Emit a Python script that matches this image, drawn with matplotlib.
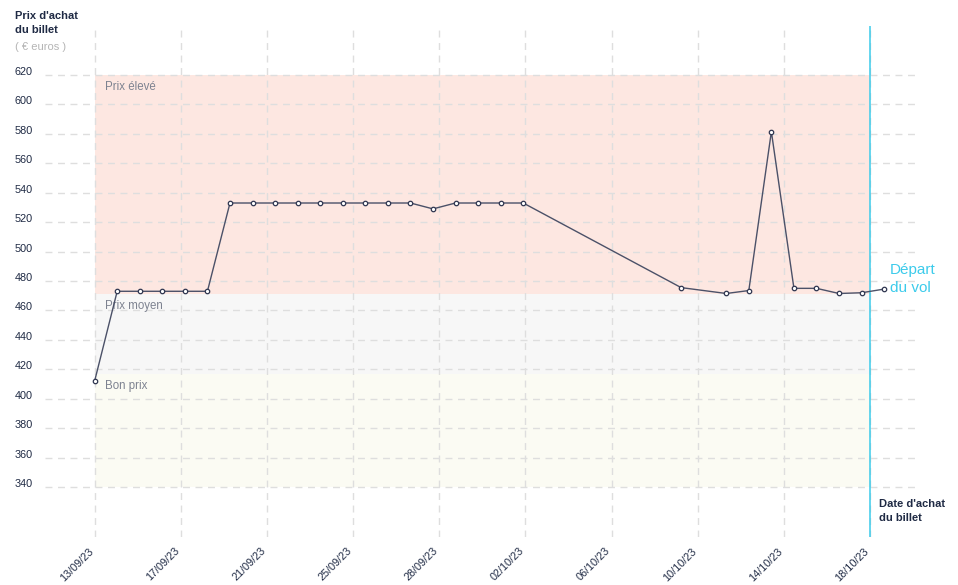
import matplotlib.pyplot as plt
import matplotlib.transforms as mtransforms
import numpy as np
import pandas as pd

plt.rcParams['font.family'] = ['Liberation Sans', 'DejaVu Sans']

# purchase dates and ticket prices (euros)
dates = ['2023-09-13', '2023-09-14', '2023-09-15', '2023-09-16', '2023-09-17',
         '2023-09-18', '2023-09-19', '2023-09-20', '2023-09-21', '2023-09-22',
         '2023-09-23', '2023-09-24', '2023-09-25', '2023-09-26', '2023-09-27',
         '2023-09-28', '2023-09-29', '2023-09-30', '2023-10-01', '2023-10-02',
         '2023-10-09', '2023-10-11', '2023-10-12', '2023-10-13', '2023-10-14',
         '2023-10-15', '2023-10-16', '2023-10-17', '2023-10-18']
prices = [412, 473, 473, 473, 473, 473, 533, 533, 533, 533,
          533, 533, 533, 533, 533, 529, 533, 533, 533, 533,
          475.5, 471.5, 473.5, 581.5, 475, 475, 471.5, 472, 474.5]

tick_labels = ['13/09/23', '17/09/23', '21/09/23', '25/09/23', '28/09/23',
               '02/10/23', '06/10/23', '10/10/23', '14/10/23', '18/10/23']
y_ticks = list(range(340, 621, 20))

# price bands: (label, low, high, colour)
band_names = ['Prix élevé', 'Prix moyen', 'Bon prix']
band_low = [471, 417, 340]
band_high = [620, 471, 417]
band_colors = ['#fde7e1', '#f7f7f7', '#fbfbf3']

departure = 34.37  # days after first purchase date

navy = '#1f2a44'
grey_txt = '#7d8290'
cyan = '#3ccbeb'

t = pd.to_datetime(dates)
x = (t - t[0]).days.values.astype(float)

fig = plt.figure(figsize=(9.58, 5.85), dpi=100)
ax = fig.add_axes([45 / 958, 48 / 585, 873 / 958, 511 / 585])

for name, lo, hi, c in zip(band_names, band_low, band_high, band_colors):
    ax.fill_between([0, departure], lo, hi, color=c, lw=0, zorder=0)
    ax.annotate(name, (0, hi), xytext=(7.5, -4.5), textcoords='offset points',
                ha='left', va='top', fontsize=8.3, color=grey_txt)

ax.plot(x, prices, '-o', color='#4b5168', lw=1, ms=3.2, mfc='white',
        mec='#2f3650', mew=0.9, zorder=3)

ax.axvline(departure, color=cyan, lw=1.1, zorder=2)

ax.set_xlim(-2.2, 36.5)
ax.set_ylim(306, 653.3)

ax.set_xticks(np.linspace(0, departure, len(tick_labels)))
ax.set_xticklabels(tick_labels, rotation=45, ha='right', va='center',
                   rotation_mode='anchor', fontsize=7.8, color=navy)
ax.set_yticks(y_ticks)
ax.set_yticklabels([str(v) for v in y_ticks], fontsize=7.8, color=navy)
ax.tick_params(axis='both', length=0)
ax.tick_params(axis='x', pad=9)
ax.tick_params(axis='y', pad=9)

left = mtransforms.ScaledTranslation(-3 / 100, 0, fig.dpi_scale_trans)
for lab in ax.get_xticklabels():
    lab.set_transform(lab.get_transform() + left)
up = mtransforms.ScaledTranslation(0, 4 / 100, fig.dpi_scale_trans)
for lab in ax.get_yticklabels():
    lab.set_transform(lab.get_transform() + up)

ax.set_axisbelow(True)
ax.grid(True, color='#dedede', lw=1, ls=(0, (5, 4)))
for s in ax.spines.values():
    s.set_visible(False)

fig.text(15 / 958, 1 - 11 / 585, "Prix d'achat\ndu billet", ha='left', va='top',
         fontsize=8, fontweight='bold', color=navy, linespacing=1.5)
fig.text(15 / 958, 1 - 47 / 585, '( € euros )', ha='left', va='center',
         fontsize=8, color='#b5b5b5')
fig.text(879 / 958, 1 - 499 / 585, "Date d'achat\ndu billet", ha='left', va='top',
         fontsize=8, fontweight='bold', color=navy, linespacing=1.5)
fig.text(890 / 958, 1 - 263 / 585, 'Départ\ndu vol', ha='left', va='top',
         fontsize=11, color=cyan, linespacing=1.35)

fig.savefig('out.png', dpi=100)
